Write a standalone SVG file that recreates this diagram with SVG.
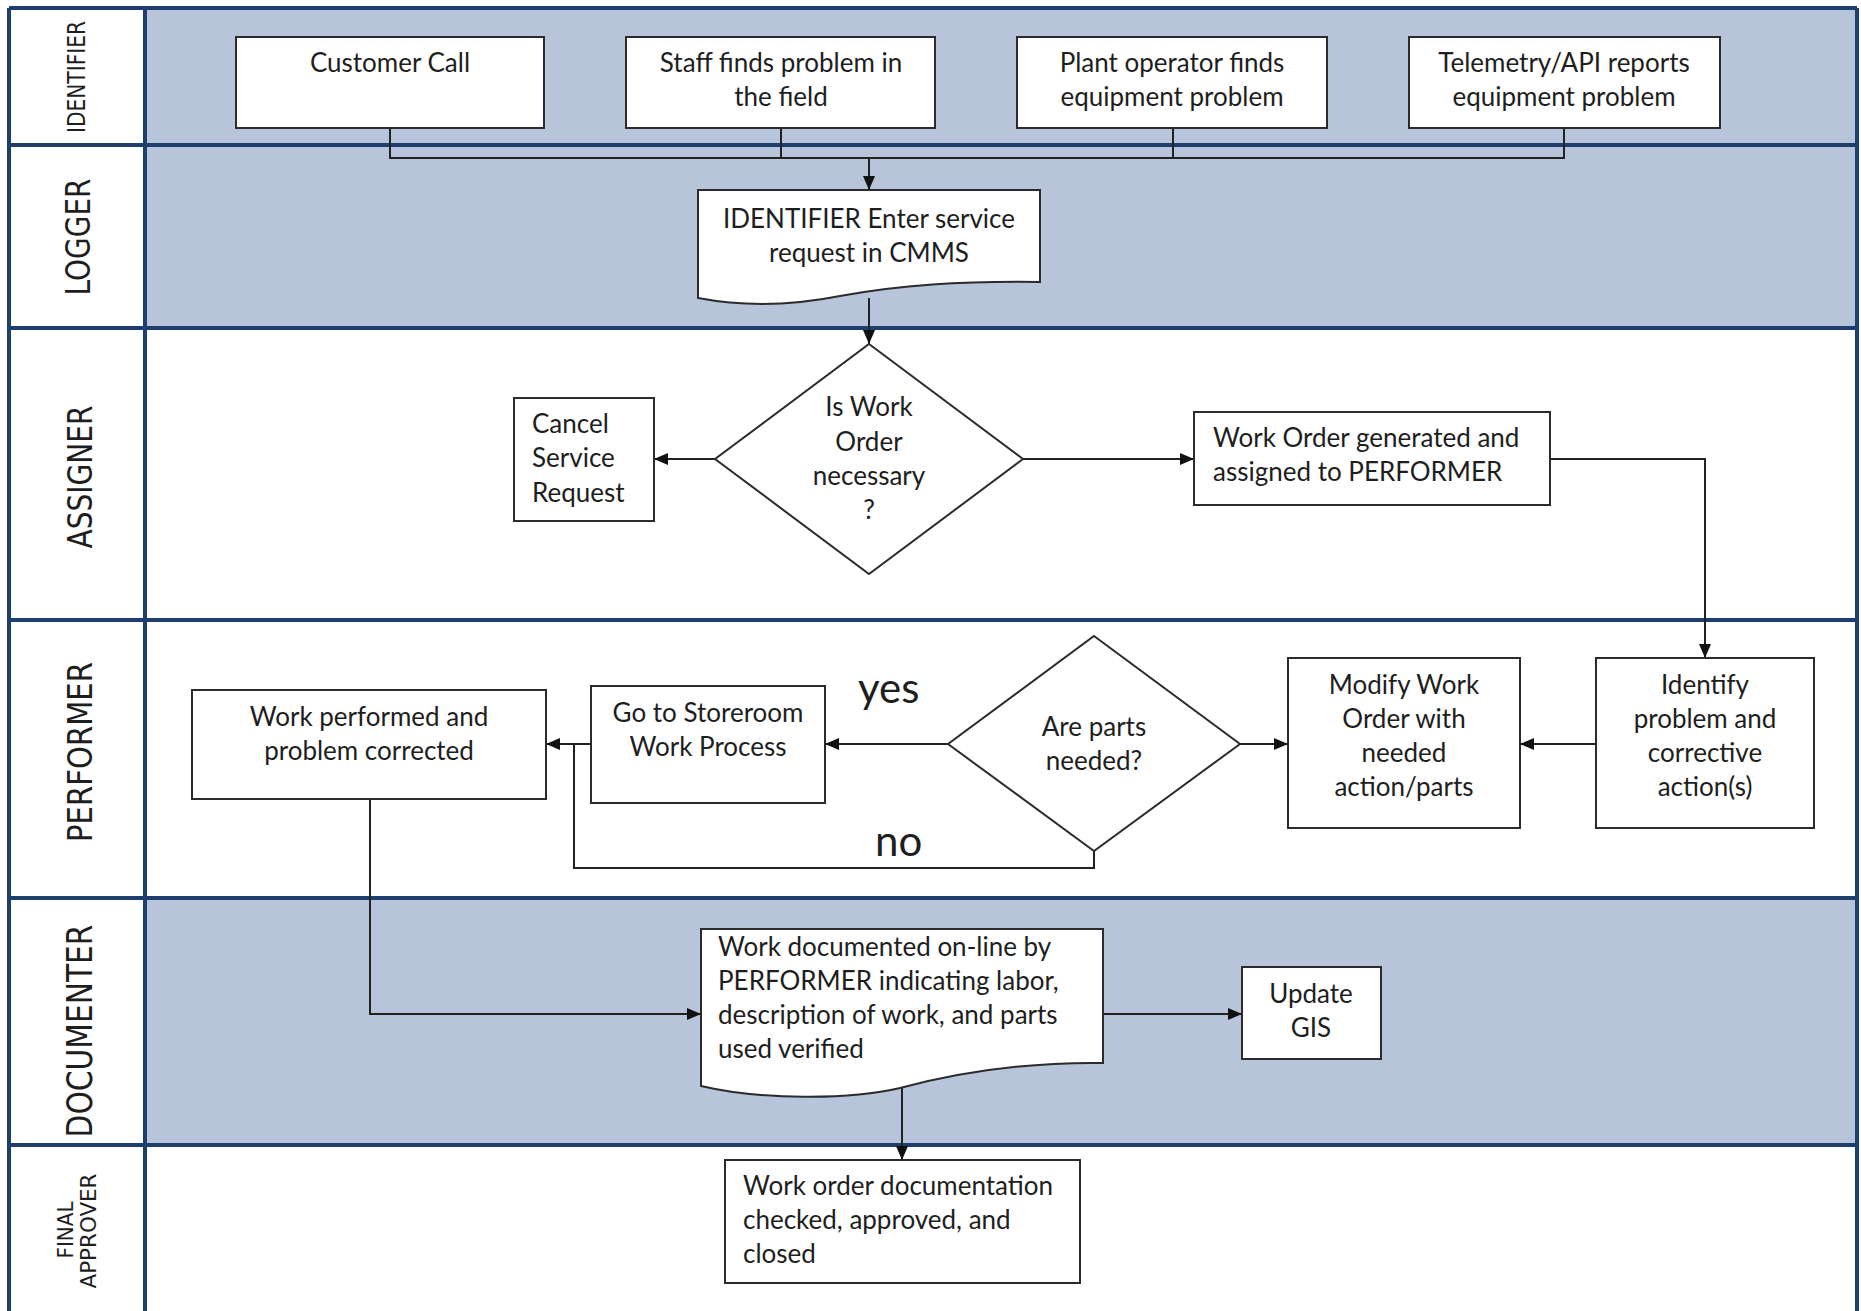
<svg xmlns="http://www.w3.org/2000/svg" width="1861" height="1311" viewBox="0 0 1861 1311">
<style>
.lane-blue{fill:#b8c4d9}
.lane-white{fill:#ffffff}
.div{stroke:#1e3f6e;stroke-width:4;fill:none}
.box{fill:#ffffff;stroke:#2b2b2b;stroke-width:2}
.t{font-family:Lato,"Open Sans","Liberation Sans",sans-serif;font-size:26px;fill:#1e1e1e}
.c{text-anchor:middle}
.lbl{font-family:"DejaVu Sans","Liberation Sans",sans-serif;fill:#1e1e1e;text-anchor:middle}
.big{font-family:Lato,"Open Sans","Liberation Sans",sans-serif;font-size:42px;fill:#1e1e1e}
.conn{stroke:#222;stroke-width:2;fill:none}
.arr{marker-end:url(#ah)}
</style>
<defs>
<marker id="ah" markerUnits="userSpaceOnUse" markerWidth="14" markerHeight="12" refX="14" refY="6" orient="auto">
<path d="M0,0 L14,6 L0,12 z" fill="#111"/>
</marker>
</defs>
<rect x="0" y="0" width="1861" height="1311" fill="#ffffff"/>
<g id="lanes">
<rect class="lane-blue" x="145" y="8" width="1713" height="137"/>
<rect class="lane-blue" x="145" y="145" width="1713" height="183"/>
<rect class="lane-white" x="145" y="328" width="1713" height="292"/>
<rect class="lane-white" x="145" y="620" width="1713" height="278"/>
<rect class="lane-blue" x="145" y="898" width="1713" height="247"/>
<rect class="lane-white" x="145" y="1145" width="1713" height="170"/>
<path class="div" d="M9,8 H1857 M9,8 V1315 M1857,8 V1315 M145,8 V1315 M9,145 H1857 M9,328 H1857 M9,620 H1857 M9,898 H1857 M9,1145 H1857"/>
<text class="lbl" font-size="24" textLength="112" lengthAdjust="spacingAndGlyphs" transform="translate(85,77) rotate(-90)">IDENTIFIER</text>
<text class="lbl" font-size="33" textLength="117" lengthAdjust="spacingAndGlyphs" transform="translate(90,237) rotate(-90)">LOGGER</text>
<text class="lbl" font-size="34" textLength="143" lengthAdjust="spacingAndGlyphs" transform="translate(92,477) rotate(-90)">ASSIGNER</text>
<text class="lbl" font-size="34" textLength="180" lengthAdjust="spacingAndGlyphs" transform="translate(92,752) rotate(-90)">PERFORMER</text>
<text class="lbl" font-size="36" textLength="213" lengthAdjust="spacingAndGlyphs" transform="translate(92,1031) rotate(-90)">DOCUMENTER</text>
<text class="lbl" font-size="22" textLength="57" lengthAdjust="spacingAndGlyphs" transform="translate(73,1230) rotate(-90)">FINAL</text>
<text class="lbl" font-size="22" textLength="115" lengthAdjust="spacingAndGlyphs" transform="translate(96,1231) rotate(-90)">APPROVER</text>
</g>
<g id="connectors">
<path class="conn" d="M390,128 V158 H1564 V128 M781,128 V158 M1173,128 V158"/>
<path class="conn arr" d="M869,158 V190"/>
<path class="conn arr" d="M869,298 V344"/>
<path class="conn arr" d="M715,459 H654"/>
<path class="conn arr" d="M1023,459 H1194"/>
<path class="conn arr" d="M1550,459 H1705 V658"/>
<path class="conn arr" d="M1596,744 H1520"/>
<path class="conn arr" d="M1240,744 H1288"/>
<path class="conn arr" d="M948,744 H825"/>
<path class="conn arr" d="M591,744 H546"/>
<path class="conn" d="M1094,851 V868 H574 V744"/>
<path class="conn arr" d="M370,799 V1014 H701"/>
<path class="conn arr" d="M1103,1014 H1242"/>
<path class="conn arr" d="M902,1088 V1160"/>
</g>
<g id="n-customer-call">
<rect class="box" x="236" y="37" width="308" height="91"/>
<text class="t c" x="390" y="72">Customer Call</text>
</g>
<g id="n-staff">
<rect class="box" x="626" y="37" width="309" height="91"/>
<text class="t c" x="781" y="72">Staff finds problem in</text>
<text class="t c" x="781" y="106">the field</text>
</g>
<g id="n-plant">
<rect class="box" x="1017" y="37" width="310" height="91"/>
<text class="t c" x="1172" y="72">Plant operator finds</text>
<text class="t c" x="1172" y="106">equipment problem</text>
</g>
<g id="n-telemetry">
<rect class="box" x="1409" y="37" width="311" height="91"/>
<text class="t c" x="1564" y="72">Telemetry/API reports</text>
<text class="t c" x="1564" y="106">equipment problem</text>
</g>
<g id="n-enter-request">
<path class="box" d="M698,190 H1040 V282 C960,281 900,285 840,296 C790,306 740,306 698,298 Z"/>
<text class="t c" x="869" y="228">IDENTIFIER Enter service</text>
<text class="t c" x="869" y="262">request in CMMS</text>
</g>
<g id="n-wo-necessary">
<polygon class="box" points="869,344 1023,459 869,574 715,459"/>
<text class="t c" x="869" y="416">Is Work</text>
<text class="t c" x="869" y="451">Order</text>
<text class="t c" x="869" y="485">necessary</text>
<text class="t c" x="869" y="519">?</text>
</g>
<g id="n-cancel">
<rect class="box" x="514" y="398" width="140" height="123"/>
<text class="t" x="532" y="433">Cancel</text>
<text class="t" x="532" y="467">Service</text>
<text class="t" x="532" y="502">Request</text>
</g>
<g id="n-wo-generated">
<rect class="box" x="1194" y="412" width="356" height="93"/>
<text class="t" x="1213" y="447">Work Order generated and</text>
<text class="t" x="1213" y="481">assigned to PERFORMER</text>
</g>
<g id="n-identify">
<rect class="box" x="1596" y="658" width="218" height="170"/>
<text class="t c" x="1705" y="694">Identify</text>
<text class="t c" x="1705" y="728">problem and</text>
<text class="t c" x="1705" y="762">corrective</text>
<text class="t c" x="1705" y="796">action(s)</text>
</g>
<g id="n-modify">
<rect class="box" x="1288" y="658" width="232" height="170"/>
<text class="t c" x="1404" y="694">Modify Work</text>
<text class="t c" x="1404" y="728">Order with</text>
<text class="t c" x="1404" y="762">needed</text>
<text class="t c" x="1404" y="796">action/parts</text>
</g>
<g id="n-parts-needed">
<polygon class="box" points="1094,636 1240,744 1094,851 948,744"/>
<text class="t c" x="1094" y="736">Are parts</text>
<text class="t c" x="1094" y="770">needed?</text>
</g>
<g id="n-storeroom">
<rect class="box" x="591" y="686" width="234" height="117"/>
<text class="t c" x="708" y="722">Go to Storeroom</text>
<text class="t c" x="708" y="756">Work Process</text>
</g>
<g id="n-work-performed">
<rect class="box" x="192" y="690" width="354" height="109"/>
<text class="t c" x="369" y="726">Work performed and</text>
<text class="t c" x="369" y="760">problem corrected</text>
</g>
<g id="labels">
<text class="big" x="858" y="703">yes</text>
<text class="big" x="875" y="856">no</text>
</g>
<g id="n-documented">
<path class="box" d="M701,929 H1103 V1063 C1030,1062 960,1072 900,1088 C850,1100 760,1100 701,1086 Z"/>
<text class="t" x="718" y="956">Work documented on-line by</text>
<text class="t" x="718" y="990">PERFORMER indicating labor,</text>
<text class="t" x="718" y="1024">description of work, and parts</text>
<text class="t" x="718" y="1058">used verified</text>
</g>
<g id="n-update-gis">
<rect class="box" x="1242" y="967" width="139" height="92"/>
<text class="t c" x="1311" y="1003">Update</text>
<text class="t c" x="1311" y="1037">GIS</text>
</g>
<g id="n-final">
<rect class="box" x="725" y="1160" width="355" height="123"/>
<text class="t" x="743" y="1195">Work order documentation</text>
<text class="t" x="743" y="1229">checked, approved, and</text>
<text class="t" x="743" y="1263">closed</text>
</g>
</svg>
